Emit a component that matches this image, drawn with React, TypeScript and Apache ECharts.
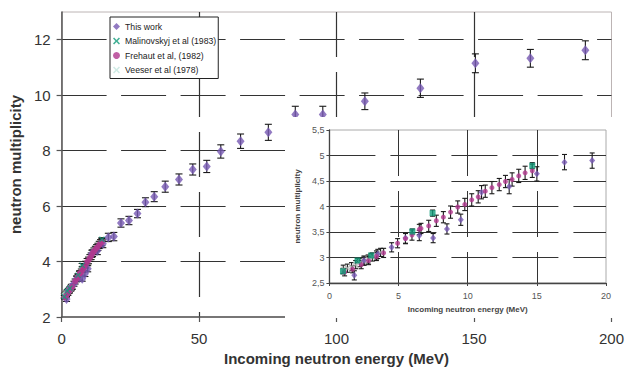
import React, { useEffect, useRef } from 'react';
import * as echarts from 'echarts';

// ---- Data ----
const thisWorkE = [1.8, 2.5, 3.5, 4.5, 5.5, 6.5, 7.5, 8.5, 9.5, 11.0, 13.0, 15.0, 17.0, 19.0, 21.6, 24.5, 27.6, 30.5, 33.7, 37.7, 42.7, 47.7, 52.8, 57.9, 65.1, 75.2, 85, 95, 110.3, 130.5, 150.5, 170.5, 190.5];
const thisWorkNu = [2.65, 2.94, 3.07, 3.2, 3.38, 3.43, 3.38, 3.56, 3.74, 4.28, 4.39, 4.64, 4.87, 4.9, 5.39, 5.48, 5.73, 6.14, 6.34, 6.7, 6.96, 7.32, 7.43, 7.97, 8.34, 8.66, 9.3, 9.3, 9.78, 10.25, 11.15, 11.33, 11.62];
const thisWorkErr = [0.09, 0.09, 0.09, 0.09, 0.1, 0.1, 0.09, 0.1, 0.11, 0.13, 0.14, 0.14, 0.15, 0.15, 0.15, 0.15, 0.15, 0.16, 0.18, 0.2, 0.2, 0.2, 0.22, 0.24, 0.26, 0.29, 0.3, 0.3, 0.3, 0.33, 0.34, 0.32, 0.34];

const malinovskyjE = [0.98, 2.03, 3.02, 6.0, 7.46, 14.67];
const malinovskyjNu = [2.73, 2.94, 3.04, 3.51, 3.87, 4.8];
const malinovskyjErr = [0.05, 0.04, 0.04, 0.05, 0.06, 0.06];

const frehautE = [1.1, 1.68, 2.3, 2.83, 3.4, 3.92, 4.93, 5.5, 5.97, 6.5, 6.62, 7.18, 7.73, 8.24, 8.76, 9.28, 9.79, 10.29, 10.76, 11.27, 11.75, 12.28, 12.73, 13.21, 13.69, 14.15, 14.67];
const frehautNu = [2.71, 2.77, 2.86, 2.94, 3.02, 3.09, 3.28, 3.37, 3.44, 3.55, 3.57, 3.62, 3.72, 3.79, 3.89, 3.99, 4.04, 4.13, 4.19, 4.3, 4.37, 4.43, 4.49, 4.53, 4.6, 4.66, 4.7];
const frehautErr = [0.07, 0.07, 0.08, 0.08, 0.08, 0.09, 0.09, 0.1, 0.1, 0.1, 0.1, 0.11, 0.11, 0.11, 0.12, 0.12, 0.12, 0.12, 0.12, 0.12, 0.12, 0.12, 0.12, 0.13, 0.13, 0.13, 0.13];

const veeserE = [1.0, 1.3, 1.6, 1.9, 2.2, 2.5, 2.8, 3.1, 3.4, 3.7];
const veeserNu = [2.77, 2.79, 2.82, 2.86, 2.9, 2.93, 2.97, 3.01, 3.05, 3.1];
const veeserErr = [0.08, 0.08, 0.08, 0.08, 0.08, 0.08, 0.08, 0.08, 0.08, 0.08];

const seriesNames = ['This work', 'Malinovskyj et al (1983)', 'Frehaut et al, (1982)', 'Veeser et al (1978)'];

// ---- Styling ----
const FONT = '"Liberation Sans", Arial, sans-serif';
const PURPLE = '#7759b3';
const MAGENTA = '#b2388e';
const GREEN = '#139c7a';
const VEESER_MAIN = '#c4e6df';
const VEESER_INSET = '#b5b5b5';
const XMARK = 'path://M0,1.6L1.6,0L5,3.4L8.4,0L10,1.6L6.6,5L10,8.4L8.4,10L5,6.6L1.6,10L0,8.4L3.4,5Z';

function pts(xs: number[], ys: number[], maxX: number) {
  const out: number[][] = [];
  xs.forEach((x, i) => { if (x <= maxX) out.push([x, ys[i]]); });
  return out;
}

function errSeries(id: string, xs: number[], ys: number[], es: number[], maxX: number, cap: number, z: number) {
  const data: number[][] = [];
  xs.forEach((x, i) => { if (x <= maxX) data.push([x, ys[i] - es[i], ys[i] + es[i]]); });
  return {
    type: 'custom',
    name: id,
    z,
    silent: true,
    data,
    encode: { x: 0, y: [1, 2] },
    renderItem: (_p: any, api: any) => {
      const x = api.value(0);
      const lo = api.coord([x, api.value(1)]);
      const hi = api.coord([x, api.value(2)]);
      const st = { stroke: '#1a1a1a', lineWidth: 1.1 };
      return {
        type: 'group',
        children: [
          { type: 'line', shape: { x1: lo[0], y1: lo[1], x2: hi[0], y2: hi[1] }, style: st },
          { type: 'line', shape: { x1: lo[0] - cap, y1: lo[1], x2: lo[0] + cap, y2: lo[1] }, style: st },
          { type: 'line', shape: { x1: hi[0] - cap, y1: hi[1], x2: hi[0] + cap, y2: hi[1] }, style: st },
        ],
      };
    },
  };
}

function buildSeries(isInset: boolean) {
  const maxX = isInset ? 20 : 1000;
  const cap = isInset ? 2.5 : 3.5;
  return [
    errSeries('e1', frehautE, frehautNu, frehautErr, maxX, cap, 1),
    errSeries('e2', veeserE, veeserNu, veeserErr, maxX, cap, 1),
    errSeries('e3', thisWorkE, thisWorkNu, thisWorkErr, maxX, cap, 1),
    errSeries('e4', malinovskyjE, malinovskyjNu, malinovskyjErr, maxX, cap, 1),
    {
      type: 'scatter', name: seriesNames[3], z: 2,
      symbol: XMARK, symbolSize: 6,
      itemStyle: { color: isInset ? VEESER_INSET : VEESER_MAIN },
      data: pts(veeserE, veeserNu, maxX),
    },
    {
      type: 'scatter', name: seriesNames[0], z: 3,
      symbol: 'diamond', symbolSize: isInset ? [6, 7] : [8, 10],
      itemStyle: { color: PURPLE },
      data: pts(thisWorkE, thisWorkNu, maxX),
    },
    {
      type: 'scatter', name: seriesNames[2], z: 4,
      symbol: 'circle', symbolSize: isInset ? 5 : 6,
      itemStyle: { color: MAGENTA },
      data: pts(frehautE, frehautNu, maxX),
    },
    {
      type: 'scatter', name: seriesNames[1], z: 5,
      symbol: isInset ? 'rect' : XMARK, symbolSize: 6,
      itemStyle: { color: GREEN },
      data: pts(malinovskyjE, malinovskyjNu, maxX),
    },
  ];
}

const mainOption = {
  animation: false,
  textStyle: { fontFamily: FONT },
  grid: { left: 58, right: 15, top: 12, bottom: 57, show: true, borderColor: '#bcb4b4', borderWidth: 1, backgroundColor: 'transparent' },
  legend: {
    orient: 'vertical', left: 110, top: 17,
    padding: [4, 2, 3, 3], itemGap: 3.5, itemWidth: 7, itemHeight: 7,
    backgroundColor: '#fff', borderColor: '#222', borderWidth: 1, borderRadius: 0,
    textStyle: { fontSize: 8.7, lineHeight: 11, color: '#222', fontFamily: FONT },
    selectedMode: false,
    data: [
      { name: seriesNames[0], icon: 'diamond', itemStyle: { color: PURPLE } },
      { name: seriesNames[1], icon: XMARK, itemStyle: { color: GREEN } },
      { name: seriesNames[2], icon: 'circle', itemStyle: { color: MAGENTA } },
      { name: seriesNames[3], icon: XMARK, itemStyle: { color: VEESER_MAIN } },
    ],
  },
  xAxis: {
    type: 'value', min: 0, max: 200, interval: 50,
    axisLine: { show: true, onZero: false, lineStyle: { color: '#555', width: 1.5 } },
    axisTick: { show: true, length: 5, lineStyle: { color: '#555', width: 1.2 } },
    axisLabel: { color: '#333', fontSize: 15, margin: 14 },
    splitLine: { show: true, showMinLine: false, showMaxLine: false, lineStyle: { color: '#333', width: 1.2, type: [45, 15] } },
    name: 'Incoming neutron energy (MeV)', nameLocation: 'middle', nameGap: 33,
    nameTextStyle: { fontSize: 15, fontWeight: 'bold', color: '#333' },
  },
  yAxis: {
    type: 'value', min: 2, max: 13, interval: 2,
    axisLine: { show: true, onZero: false, lineStyle: { color: '#555', width: 1.5 } },
    axisTick: { show: true, length: 5, lineStyle: { color: '#555', width: 1.2 } },
    axisLabel: { color: '#333', fontSize: 15, margin: 11, showMaxLabel: false },
    splitLine: { show: true, showMinLine: false, showMaxLine: false, lineStyle: { color: '#333', width: 1.2, type: [45, 14.5] } },
    name: 'neutron multiplicity', nameLocation: 'middle', nameGap: 34,
    nameTextStyle: { fontSize: 15, fontWeight: 'bold', color: '#333' },
  },
  series: buildSeries(false),
};

const insetOption = {
  animation: false,
  textStyle: { fontFamily: FONT },
  grid: { left: 36, right: 21, top: 13, bottom: 35, show: true, borderColor: '#aaa', borderWidth: 1, backgroundColor: 'transparent' },
  xAxis: {
    type: 'value', min: 0, max: 20, interval: 5,
    axisLine: { show: true, onZero: false, lineStyle: { color: '#444', width: 1.3 } },
    axisTick: { show: true, length: 3, lineStyle: { color: '#444' } },
    axisLabel: { color: '#555', fontSize: 9, margin: 8 },
    splitLine: { show: true, showMinLine: false, showMaxLine: false, lineStyle: { color: '#333', width: 1, type: [46, 15] } },
    name: 'Incoming neutron energy (MeV)', nameLocation: 'middle', nameGap: 22,
    nameTextStyle: { fontSize: 8, fontWeight: 'bold', color: '#444' },
  },
  yAxis: {
    type: 'value', min: 2.5, max: 5.5, interval: 0.5,
    axisLine: { show: true, onZero: false, lineStyle: { color: '#444', width: 1.3 } },
    axisTick: { show: true, length: 3, lineStyle: { color: '#444' } },
    axisLabel: { color: '#555', fontSize: 9, margin: 5, formatter: (v: number) => String(v).replace('.', ',') },
    splitLine: { show: true, showMinLine: false, showMaxLine: false, lineStyle: { color: '#333', width: 1, type: [46, 15] } },
    name: 'neutron multiplicity', nameLocation: 'middle', nameGap: 20,
    nameTextStyle: { fontSize: 8, fontWeight: 'bold', color: '#444' },
  },
  series: buildSeries(true),
};

export default function App() {
  const mainRef = useRef<HTMLDivElement>(null);
  const insetRef = useRef<HTMLDivElement>(null);
  useEffect(() => {
    const main = echarts.init(mainRef.current!, undefined, { renderer: 'svg' });
    main.setOption(mainOption as any);
    const inset = echarts.init(insetRef.current!, undefined, { renderer: 'svg' });
    inset.setOption(insetOption as any);
    return () => {
      main.dispose();
      inset.dispose();
    };
  }, []);
  return (
    <div style={{ position: 'fixed', left: 0, top: 0, width: 627, height: 374, background: '#fff' }}>
      <div ref={mainRef} style={{ position: 'absolute', left: 0, top: 0, width: 627, height: 374 }} />
      <div ref={insetRef} style={{ position: 'absolute', left: 285, top: 117, width: 342, height: 201, background: '#fff' }} />
    </div>
  );
}
